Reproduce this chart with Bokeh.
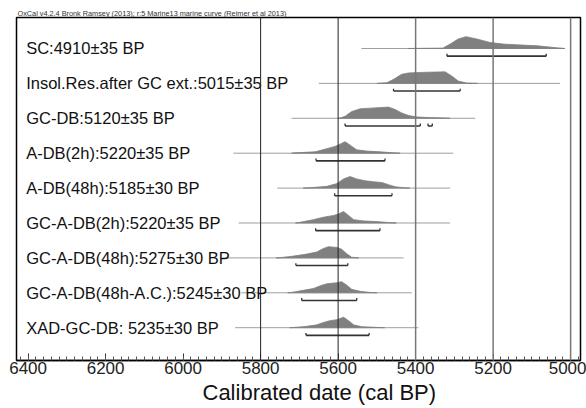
from bokeh.plotting import figure
from bokeh.models import Range1d, FixedTicker, Span, Title
from bokeh.core.properties import value
from bokeh.embed import file_html
from bokeh.resources import INLINE

labels = ["SC:4910\u00b135 BP", "Insol.Res.after GC ext.:5015\u00b135 BP", "GC-DB:5120\u00b135 BP",
          "A-DB(2h):5220\u00b135 BP", "A-DB(48h):5185\u00b130 BP", "GC-A-DB(2h):5220\u00b135 BP",
          "GC-A-DB(48h):5275\u00b130 BP", "GC-A-DB(48h-A.C.):5245\u00b130 BP", "XAD-GC-DB: 5235\u00b130 BP"]

# extent of each calibrated range line (cal BP)
line_start = [5540, 5650, 5720, 5870, 5757, 5857, 5900, 5850, 5866]
line_end = [5015, 5027, 5246, 5303, 5311, 5311, 5431, 5410, 5393]

# 95.4% ranges (row index, from, to)
range_row = [0, 1, 2, 2, 3, 4, 5, 6, 7, 8]
range_from = [5319, 5457, 5582, 5368, 5657, 5609, 5658, 5709, 5694, 5683]
range_to = [5063, 5285, 5388, 5357, 5479, 5461, 5492, 5575, 5552, 5520]

# probability distributions (years, relative density)
sc_years = [5420, 5330, 5311, 5290, 5270, 5242, 5208, 5173, 5139, 5087, 5036, 5015]
sc_dens = [0, 0.03, 0.37, 0.8, 1.0, 0.8, 0.51, 0.37, 0.31, 0.23, 0.06, 0]
insol_years = [5500, 5474, 5457, 5436, 5418, 5370, 5324, 5307, 5290, 5268, 5240]
insol_dens = [0, 0.06, 0.35, 0.79, 0.91, 0.97, 1.0, 0.65, 0.2, 0.03, 0]
gcdb_years = [5600, 5595, 5582, 5565, 5543, 5517, 5470, 5453, 5436, 5418, 5397, 5363, 5328, 5311]
gcdb_dens = [0, 0.03, 0.18, 0.6, 0.85, 0.91, 1.0, 0.79, 0.48, 0.24, 0.12, 0.06, 0.03, 0]
adb2_years = [5720, 5711, 5659, 5634, 5608, 5591, 5582, 5569, 5552, 5526, 5492, 5457, 5440]
adb2_dens = [0, 0.03, 0.12, 0.35, 0.59, 0.85, 1.0, 0.7, 0.29, 0.18, 0.12, 0.03, 0]
adb48_years = [5690, 5672, 5629, 5603, 5586, 5569, 5552, 5530, 5509, 5487, 5470, 5453, 5431, 5415]
adb48_dens = [0, 0.03, 0.15, 0.39, 0.79, 1.0, 0.79, 0.64, 0.55, 0.48, 0.3, 0.12, 0.03, 0]
gcadb2_years = [5710, 5698, 5664, 5638, 5612, 5599, 5586, 5573, 5560, 5535, 5500, 5466, 5450]
gcadb2_dens = [0, 0.06, 0.29, 0.5, 0.65, 0.79, 1.0, 0.65, 0.29, 0.18, 0.12, 0.03, 0]
gcadb48_years = [5760, 5750, 5715, 5681, 5655, 5638, 5625, 5603, 5591, 5578, 5565, 5547]
gcadb48_dens = [0, 0.02, 0.16, 0.34, 0.53, 0.84, 1.0, 0.94, 0.78, 0.38, 0.06, 0]
gcadbac_years = [5730, 5715, 5690, 5664, 5646, 5629, 5603, 5591, 5578, 5565, 5543, 5517, 5500]
gcadbac_dens = [0, 0.06, 0.22, 0.38, 0.63, 0.81, 0.9, 1.0, 0.69, 0.31, 0.13, 0.03, 0]
xad_years = [5725, 5711, 5681, 5655, 5638, 5621, 5603, 5586, 5573, 5560, 5539, 5500, 5480]
xad_dens = [0, 0.03, 0.13, 0.27, 0.5, 0.67, 0.77, 1.0, 0.67, 0.27, 0.1, 0.03, 0]

dist_years = [sc_years, insol_years, gcdb_years, adb2_years, adb48_years,
              gcadb2_years, gcadb48_years, gcadbac_years, xad_years]
dist_dens = [sc_dens, insol_dens, gcdb_dens, adb2_dens, adb48_dens,
             gcadb2_dens, gcadb48_dens, gcadbac_dens, xad_dens]
dist_peak = [0.34, 0.33, 0.32, 0.33, 0.33, 0.33, 0.32, 0.32, 0.30]

x_ticks = [6400, 6200, 6000, 5800, 5600, 5400, 5200, 5000]
dark_lines = [5800, 5600]
gray_lines = [5400, 5200, 5000]

title_text = "OxCal v4.2.4 Bronk Ramsey (2013); r:5 Marine13 marine curve (Reimer et al 2013)"
x_title = "Calibrated date (cal BP)"

FONT = "Liberation Sans"

p = figure(width=586, height=408, output_backend="svg", toolbar_location=None,
           x_range=Range1d(6430, 4974.5), y_range=Range1d(8.94, -0.888),
           min_border_left=16, min_border_right=6, min_border_top=17, min_border_bottom=48)
p.background_fill_color = "white"
p.border_fill_color = "white"
p.outline_line_color = "black"
p.outline_line_width = 1.5
p.xgrid.visible = False
p.ygrid.visible = False
p.yaxis.visible = False

p.title.text = title_text
p.title.text_font = FONT
p.title.text_font_size = "7.3px"
p.title.text_font_style = "normal"
p.title.text_color = "#333333"
p.title.align = "left"
p.title.standoff = 0
p.title.offset = 1

for loc in dark_lines:
    p.add_layout(Span(location=loc, dimension="height", line_color="#222222", line_width=1))
for loc in gray_lines:
    p.add_layout(Span(location=loc, dimension="height", line_color="#777777", line_width=1.5))

n = len(labels)
# light range lines
p.segment(x0=line_start, y0=list(range(n)), x1=line_end, y1=list(range(n)),
          line_color="#9f9f9f", line_width=1)

# distributions
xs, ys = [], []
for i in range(n):
    xs.append(list(dist_years[i]))
    ys.append([i - dist_peak[i] * d for d in dist_dens[i]])
p.patches(xs=xs, ys=ys, fill_color="#808080", line_color="#808080", line_width=0.8)

# ranges (brackets)
by = [r + 0.22 for r in range_row]
bt = [r + 0.15 for r in range_row]
p.segment(x0=range_from, y0=by, x1=range_to, y1=by, line_color="#333333", line_width=1.6)
p.segment(x0=range_from, y0=by, x1=range_from, y1=bt, line_color="#333333", line_width=1.3)
p.segment(x0=range_to, y0=by, x1=range_to, y1=bt, line_color="#333333", line_width=1.3)

# labels
p.text(x=[6405] * n, y=list(range(n)), text=labels, text_font=value(FONT),
       text_font_size="16.5px", text_color="#111111", text_align="left", text_baseline="middle")

ax = p.xaxis[0]
ax.ticker = FixedTicker(ticks=x_ticks, minor_ticks=list(range(4980, 6440, 20)))
ax.major_tick_in = 7
ax.major_tick_out = 0
ax.minor_tick_in = 4
ax.minor_tick_out = 0
ax.axis_line_color = "black"
ax.axis_line_width = 1.5
ax.major_tick_line_color = "#333333"
ax.minor_tick_line_color = "#555555"
ax.major_label_text_font = FONT
ax.major_label_text_font_size = "17px"
ax.major_label_text_color = "#222222"
ax.major_label_standoff = 1

p.add_layout(Title(text=x_title, text_font=FONT, text_font_size="22px",
                   text_font_style="normal", text_color="#111111", align="left",
                   offset=186, standoff=3), "below")

open("out.html", "w").write(file_html(p, INLINE))
